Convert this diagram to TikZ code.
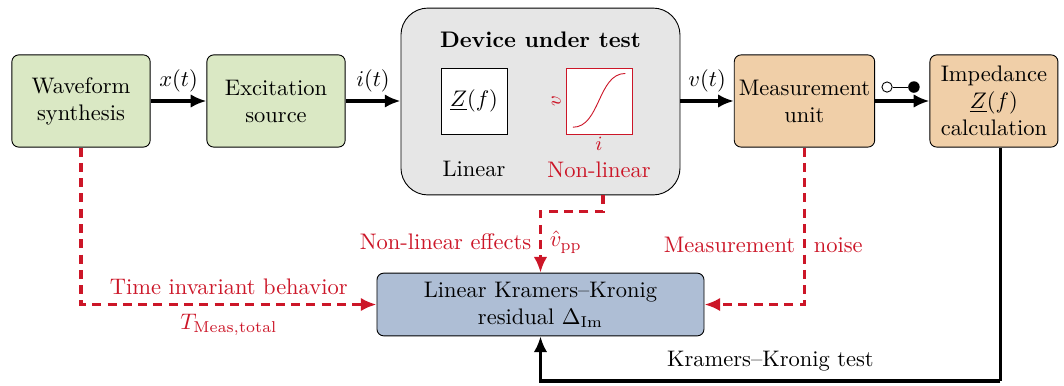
\documentclass[tikz,border=0pt]{standalone}
\usetikzlibrary{arrows.meta,positioning}

\definecolor{kkred}{RGB}{204,22,40}
\definecolor{kkgreen}{RGB}{218,232,196}
\definecolor{kkorange}{RGB}{240,207,168}
\definecolor{kkgray}{RGB}{230,230,230}
\definecolor{kkblue}{RGB}{174,190,213}

\begin{document}
\begin{tikzpicture}[
    block/.style={
        draw, rounded corners=3pt,
        minimum width=2.16cm, minimum height=1.44cm,
        inner xsep=2pt, align=center
    },
    inner/.style={draw, minimum size=1.03cm, inner sep=0pt, fill=white},
    sig/.style={-{Latex[length=7pt,width=6pt]}, line width=1.6pt},
    err/.style={-{Latex[length=7pt,width=6pt]}, line width=1.6pt, kkred,
        dash pattern=on 4pt off 2.8pt},
    note/.style={text=kkred}
]
\useasboundingbox (0,0) rectangle (16.625,-6.03);

\node[block, fill=kkgreen]  (wave) at (1.266, -1.578) {Waveform\\synthesis};
\node[block, fill=kkgreen]  (exc)  at (4.313, -1.578) {Excitation\\source};
\node[draw, rounded corners=12pt, fill=kkgray,
      minimum width=4.36cm, minimum height=2.92cm] (dut) at (8.445, -1.586) {};
\node[block, fill=kkorange] (meas) at (12.57, -1.578) {Measurement\\unit};
\node[block, fill=kkorange, minimum width=2cm] (imp) at (15.53, -1.578)
    {Impedance\\$\underline{Z}(f)$\\calculation};
\node[block, fill=kkblue, minimum width=5.11cm, minimum height=0.98cm] (kk)
    at (8.445, -4.758) {Linear Kramers--Kronig\\residual $\Delta_{\mathrm{Im}}$};

% device under test
\node[font=\bfseries, anchor=north] (dutt) at ([yshift=-0.26cm]dut.north) {Device under test};
\node[inner] (zf) at (7.406, -1.578) {$\underline{Z}(f)$};
\node[inner, draw=kkred] (nl) at (9.36, -1.578) {};
\draw[kkred] ([shift={(-0.41,-0.41)}]nl.center)
    .. controls ([shift={(0.02,-0.41)}]nl.center) and ([shift={(-0.02,0.43)}]nl.center)
    .. ([shift={(0.41,0.43)}]nl.center);
\node[note, font=\small, rotate=90, anchor=south, inner sep=2pt] (nlv) at (nl.west) {$v$};
\node[note, font=\small, anchor=north, inner sep=1pt] (nli) at (nl.south) {$i$};
\node[below=0.3cm of zf] (lin) {Linear};
\node[note, below=0.3cm of nl] (nonlin) {Non-linear};

% switch
\node[circle, draw, fill=white, inner sep=0pt, minimum size=0.16cm] (swo) at (13.86, -1.36) {};
\node[circle, fill, inner sep=0pt, minimum size=0.18cm] (swc) at (14.28, -1.36) {};
\draw (swo) -- (swc);

\draw[sig] (wave) -- node[above] {$x(t)$} (exc);
\draw[sig] (exc) -- node[above] {$i(t)$} (exc -| dut.west);
\draw[sig] (meas -| dut.east) -- node[above] {$v(t)$} (meas);
\draw[sig] (meas) -- (imp);

\draw[err] (wave.south) |- (kk.west)
    node[note, pos=0.75, above] {Time invariant behavior}
    node[note, pos=0.75, below] {$T_{\mathrm{Meas,total}}$};
\draw[err] ([xshift=0.06cm]dut.south -| nl) -- ++(0,-0.25) -| (kk.north)
    node[note, pos=0.75, left] {Non-linear effects}
    node[note, pos=0.75, right] {$\hat{v}_{\mathrm{pp}}$};
\draw[err] (meas.south) |- (kk.east)
    node[note, pos=0.31, left] {Measurement}
    node[note, pos=0.31, right] {noise};

\coordinate (ret) at ([xshift=0.1cm]imp.south |- 0,-5.95);
\draw[line width=1.6pt] ([xshift=0.1cm]imp.south) -- (ret);
\draw[sig] (ret) -| (kk.south) node[pos=0.25, above] {Kramers--Kronig test};

\end{tikzpicture}
\end{document}
